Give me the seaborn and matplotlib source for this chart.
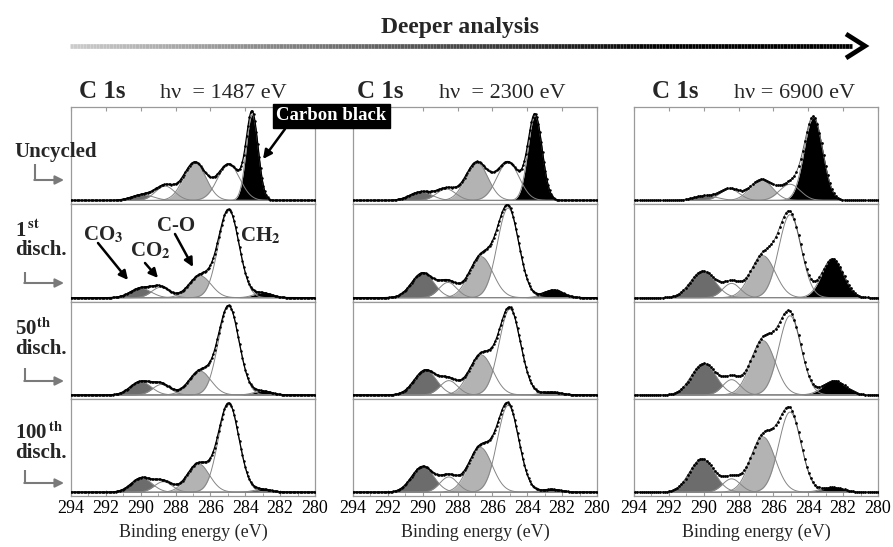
import numpy as np
import matplotlib
matplotlib.use("Agg")
import matplotlib.pyplot as plt
import seaborn as sns
from matplotlib.collections import LineCollection

# ---------------- data ----------------
components = ["CO3", "CO2", "C-O", "CH2", "Carbon black"]
row_labels = ["Uncycled", "1st disch.", "50th disch.", "100th disch."]
photon_energies = ["1487", "2300", "6900"]
xticks_major = [294, 292, 290, 288, 286, 284, 282, 280]
xticks_minor = [293, 291, 289, 287, 285, 283, 281]

# peak centres (eV), rows x components
p1_centers = [[289.9, 288.6, 286.9, 284.95, 283.6],
              [290.0, 288.85, 286.6, 284.95, 283.0],
              [290.0, 288.8, 286.6, 284.95, 283.0],
              [289.95, 288.7, 286.7, 284.95, 283.0]]
p1_heights = [[0.06, 0.15, 0.40, 0.38, 0.90],
              [0.10, 0.11, 0.23, 0.92, 0.05],
              [0.14, 0.11, 0.25, 0.93, 0.04],
              [0.15, 0.11, 0.30, 0.93, 0.03]]
p1_fwhm = [[1.5, 1.3, 1.5, 1.5, 0.8],
           [1.4, 1.2, 1.5, 1.4, 1.2],
           [1.4, 1.2, 1.5, 1.4, 1.2],
           [1.4, 1.2, 1.5, 1.4, 1.2]]

p2_centers = [[290.1, 288.65, 286.9, 285.1, 283.55],
              [290.0, 288.55, 286.65, 285.1, 282.5],
              [289.85, 288.5, 286.65, 285.0, 282.6],
              [290.0, 288.5, 286.7, 285.1, 282.6]]
p2_heights = [[0.09, 0.12, 0.40, 0.40, 0.89],
              [0.26, 0.16, 0.43, 0.94, 0.08],
              [0.26, 0.15, 0.42, 0.90, 0.03],
              [0.27, 0.16, 0.47, 0.91, 0.03]]
p2_fwhm = [[1.5, 1.3, 1.5, 1.5, 0.95],
           [1.5, 1.2, 1.6, 1.45, 1.3],
           [1.5, 1.2, 1.6, 1.45, 1.3],
           [1.5, 1.2, 1.6, 1.45, 1.3]]

p3_centers = [[289.9, 288.5, 286.7, 285.05, 283.7],
              [290.05, 288.4, 286.6, 285.05, 282.6],
              [290.0, 288.4, 286.6, 285.05, 282.5],
              [290.1, 288.4, 286.6, 285.05, 282.6]]
p3_heights = [[0.05, 0.12, 0.22, 0.17, 0.87],
              [0.28, 0.15, 0.44, 0.87, 0.41],
              [0.33, 0.16, 0.57, 0.83, 0.15],
              [0.35, 0.14, 0.58, 0.84, 0.05]]
p3_fwhm = [[1.6, 1.3, 1.5, 1.4, 1.25],
           [1.65, 1.2, 1.65, 1.5, 1.45],
           [1.65, 1.2, 1.65, 1.5, 1.5],
           [1.65, 1.2, 1.65, 1.5, 1.5]]

# ---------------- style ----------------
sns.set_style("white")
plt.rcParams['font.family'] = ['Liberation Serif', 'DejaVu Serif']
plt.rcParams['mathtext.fontset'] = 'stix'

fill_colors = ['#6c6c6c', 'white', '#b3b3b3', 'white', 'black']
outline_color = '#858585'
frame_color = '#9a9a9a'

W, H = 893, 547
fig = plt.figure(figsize=(W / 100, H / 100), dpi=100)

panel_left_px = [71, 353, 634]
panel_w_px = 244
top_px, bottom_px = 107, 496
row_h = (bottom_px - top_px) / 4

x = np.linspace(280, 294, 701)


def gauss(xv, c, h, fwhm):
    s = fwhm / 2.3548
    return h * np.exp(-0.5 * ((xv - c) / s) ** 2)


panels = [(p1_centers, p1_heights, p1_fwhm),
          (p2_centers, p2_heights, p2_fwhm),
          (p3_centers, p3_heights, p3_fwhm)]

for pi, (cen, hei, fw) in enumerate(panels):
    for ri in range(4):
        y0 = top_px + ri * row_h
        ax = fig.add_axes([panel_left_px[pi] / W, 1 - (y0 + row_h) / H,
                           panel_w_px / W, row_h / H])
        total = np.zeros_like(x)
        curves = []
        for ci in range(len(components)):
            g = gauss(x, cen[ri][ci], hei[ri][ci], fw[ri][ci])
            curves.append(g)
            total += g
            ax.fill_between(x, 0, g, color=fill_colors[ci], lw=0, zorder=2 + ci)
        for g in curves:
            ax.plot(x, g, color=outline_color, lw=0.7, zorder=9)
        if pi == 2:
            sns.lineplot(x=x, y=total, ax=ax, color='#555555', lw=0.6, zorder=12,
                         marker='o', markersize=2.0, markeredgewidth=0,
                         markerfacecolor='black', markevery=6)
        else:
            sns.lineplot(x=x, y=total, ax=ax, color='black', lw=0.9, zorder=12,
                         marker='o', markersize=1.8, markeredgewidth=0,
                         markevery=4)
        ax.set_xlim(294, 280)
        ax.set_ylim(-0.04, 0.98)
        ax.set_yticks([])
        ax.set_ylabel('')
        for sp in ax.spines.values():
            sp.set_color(frame_color)
            sp.set_linewidth(0.9)
        ax.set_xticks(xticks_major)
        ax.set_xticks(xticks_minor, minor=True)
        if ri == 0:
            ax.tick_params(axis='x', which='major', direction='in', top=True,
                           bottom=False, labelbottom=False, length=3,
                           color=frame_color)
            ax.tick_params(axis='x', which='minor', top=False, bottom=False)
        elif ri == 3:
            ax.tick_params(axis='x', which='major', direction='in', top=False,
                           bottom=True, labelbottom=True, length=4,
                           color=frame_color, labelsize=13, pad=3,
                           labelcolor='black')
            ax.tick_params(axis='x', which='minor', direction='in', top=False,
                           bottom=True, length=2, color=frame_color)
            ax.set_xlabel('Binding energy (eV)', fontsize=13, labelpad=5)
        else:
            ax.tick_params(axis='x', which='both', top=False, bottom=False,
                           labelbottom=False)
        if ri != 3:
            ax.set_xlabel('')

# ---------------- overlay annotations ----------------
ov = fig.add_axes([0, 0, 1, 1], zorder=20)
ov.set_xlim(0, W)
ov.set_ylim(H, 0)
ov.axis('off')
ov.patch.set_alpha(0)

# gradient arrow
xs = np.linspace(70, 852, 240)
segs = [[(xs[i], 46), (xs[i + 1], 46)] for i in range(len(xs) - 1)]
gv = np.clip(np.linspace(0.8, -0.25, len(segs)), 0, 1)
lc = LineCollection(segs, colors=[(g, g, g) for g in gv], linewidths=3.4,
                    capstyle='butt')
ov.add_collection(lc)
ov.plot([846, 865, 846], [34, 46, 58], color='black', lw=3.4,
        solid_capstyle='butt', solid_joinstyle='miter')
ov.text(460, 28, 'Deeper analysis', fontsize=17, fontweight='bold',
        ha='center', va='center')

# panel titles
c1s_x = [79, 357, 652]
hv_x = [160, 439, 734]
hv_text = ['hν  = 1487 eV', 'hν  = 2300 eV', 'hν = 6900 eV']
for i in range(3):
    ov.text(c1s_x[i], 98, 'C 1s', fontsize=18, fontweight='bold',
            ha='left', va='baseline')
    ov.text(hv_x[i], 98, hv_text[i], fontsize=16, ha='left', va='baseline')

# row labels
lab_kw = dict(fontsize=15, fontweight='bold', ha='left', va='center',
              linespacing=0.95)
ov.text(14, 152, 'Uncycled', **lab_kw)
ov.text(15, 240, r'1$^{\,\mathbf{st}}$' + '\ndisch.', **lab_kw)
ov.text(15, 339, r'50$^{\mathbf{th}}$' + '\ndisch.', **lab_kw)
ov.text(15, 443, r'100$^{\,\mathbf{th}}$' + '\ndisch.', **lab_kw)

arrow_gray = '#7a7a7a'
row_arrows = [(35, 164, 180), (25, 272, 283), (25, 368, 381), (25, 470, 483)]
for xa, ya0, ya1 in row_arrows:
    ov.plot([xa, xa], [ya0, ya1], color=arrow_gray, lw=1.5, solid_capstyle='butt')
    ov.annotate('', xy=(64, ya1), xytext=(xa - 0.7, ya1),
                arrowprops=dict(arrowstyle='-|>', color=arrow_gray, lw=1.5,
                                mutation_scale=13, shrinkA=0, shrinkB=0))

# Carbon black label
ov.text(331, 116, 'Carbon black', fontsize=13.5, fontweight='bold', color='white',
        ha='center', va='center',
        bbox=dict(facecolor='black', edgecolor='black', boxstyle='square,pad=0.18'))
arr_kw = dict(arrowstyle='-|>', color='black', lw=1.8, mutation_scale=13,
              shrinkA=0, shrinkB=0)
ov.annotate('', xy=(263, 159), xytext=(285, 129), arrowprops=arr_kw)

# component labels in the 1st discharge row
ann_kw = dict(fontsize=15, fontweight='bold', ha='left', va='center')
ov.text(83, 235, r'CO$_{\mathbf{3}}$', **ann_kw)
ov.annotate('', xy=(128, 280), xytext=(98, 243), arrowprops=arr_kw)
ov.text(130, 251, r'CO$_{\mathbf{2}}$', **ann_kw)
ov.annotate('', xy=(158, 278), xytext=(145, 263), arrowprops=arr_kw)
ov.text(157, 226, 'C-O', **ann_kw)
ov.annotate('', xy=(193, 267), xytext=(175, 234), arrowprops=arr_kw)
ov.text(240, 236, r'CH$_{\mathbf{2}}$', **ann_kw)

fig.savefig('out.png', dpi=100)
